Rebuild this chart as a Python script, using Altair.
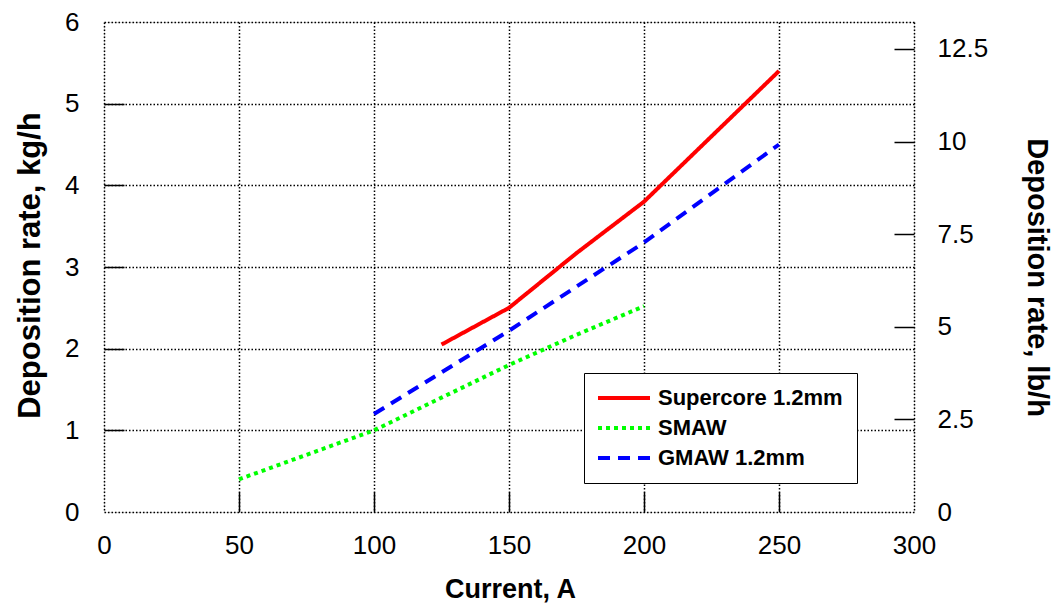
import altair as alt
import pandas as pd

series_names = ["Supercore 1.2mm", "SMAW", "GMAW 1.2mm"]
supercore_current = [125, 150, 175, 200, 250]
supercore_rate = [2.05, 2.5, 3.17, 3.8, 5.4]
smaw_current = [50, 100, 125, 150, 175, 200]
smaw_rate = [0.4, 1.0, 1.4, 1.8, 2.17, 2.52]
gmaw_current = [100, 150, 200, 250]
gmaw_rate = [1.2, 2.22, 3.3, 4.5]

x_ticks = [0, 50, 100, 150, 200, 250, 300]
kg_ticks = [0, 1, 2, 3, 4, 5, 6]
lb_ticks = [0, 2.5, 5, 7.5, 10, 12.5]
KG_TO_LB = 2.20462

colors = ["#ff0000", "#00ff00", "#0000ff"]
dashes = [[1, 0], [4, 4], [12, 8]]

rows = []
for name, xs, ys in [(series_names[0], supercore_current, supercore_rate),
                     (series_names[1], smaw_current, smaw_rate),
                     (series_names[2], gmaw_current, gmaw_rate)]:
    for x, y in zip(xs, ys):
        rows.append({"series": name, "current": x, "rate": y})
df = pd.DataFrame(rows)

FONT = "Liberation Sans"
xscale = alt.Scale(domain=[0, 300], nice=False, zero=False)
kgscale = alt.Scale(domain=[0, 6], nice=False)
lbscale = alt.Scale(domain=[0, 6 * KG_TO_LB], nice=False)

legend_spacer = "\u00a0" * 4

legend = alt.Legend(
    orient="none", legendX=480, legendY=351, padding=14,
    strokeColor="black", fillColor="white",
    symbolType="M-5.2,0H5.2", symbolSize=100, symbolStrokeWidth=4,
    symbolOffset=15,
    labelFont=FONT, labelFontSize=22, labelFontWeight="bold", labelColor="black",
    labelOffset=23, rowPadding=8, labelLimit=400,
    title=legend_spacer, titleOrient="right", titleFont=FONT, titleFontSize=22,
    titlePadding=0,
)

base = alt.Chart(df)

lines = base.mark_line(strokeWidth=4, strokeCap="butt").encode(
    x=alt.X("current:Q", scale=xscale, axis=alt.Axis(
        orient="bottom", values=x_ticks, format="d", title="Current, A",
        grid=True, gridColor="black", gridDash=[1.5, 2], gridWidth=1.5, gridOpacity=1,
        ticks=False, domain=False, labelPadding=20, labelFontSize=26,
        labelFont=FONT, labelColor="black", labelFlush=False,
        titleFont=FONT, titleFontSize=27, titleFontWeight="bold", titleColor="black",
        titleX=406, titleY=77, titleBaseline="middle", titleAlign="center")),
    y=alt.Y("rate:Q", scale=kgscale, axis=alt.Axis(
        orient="left", values=kg_ticks, format="d", title="Deposition rate, kg/h",
        grid=True, gridColor="black", gridDash=[1.5, 2], gridWidth=1.5, gridOpacity=1,
        ticks=False, domain=False, labelPadding=25, labelFontSize=26,
        labelFont=FONT, labelColor="black", labelFlush=False,
        titleFont=FONT, titleFontSize=31, titleFontWeight="bold", titleColor="black",
        titleX=-74, titleY=243, titleBaseline="middle", titleAlign="center")),
    color=alt.Color("series:N", scale=alt.Scale(domain=series_names, range=colors),
                    legend=legend, title=legend_spacer),
    strokeDash=alt.StrokeDash("series:N", scale=alt.Scale(domain=series_names, range=dashes),
                              legend=legend, title=legend_spacer),
)

kg_ticks_layer = base.mark_line(opacity=0).encode(
    x=alt.X("current:Q", scale=xscale, axis=alt.Axis(
        orient="bottom", values=x_ticks[1:-1], labels=False, domain=False, grid=False,
        ticks=True, tickSize=20, tickWidth=1.5, tickColor="black", offset=-20, title=None)),
    y=alt.Y("rate:Q", scale=kgscale, axis=alt.Axis(
        orient="left", values=kg_ticks[1:-1], labels=False, domain=False, grid=False,
        ticks=True, tickSize=20, tickWidth=1.5, tickColor="black", offset=-20, title=None)),
)

lb_base = base.transform_calculate(lb="datum.rate * 2.20462")

lb_labels = lb_base.mark_line(opacity=0).encode(
    x=alt.X("current:Q", scale=xscale, axis=None),
    y=alt.Y("lb:Q", scale=lbscale, axis=alt.Axis(
        orient="right", values=lb_ticks, labelExpr="toString(datum.value)",
        title="Deposition rate, lb/h",
        grid=False, ticks=False, domain=False, labelPadding=23, labelFontSize=26,
        labelFont=FONT, labelColor="black", labelFlush=False,
        titleFont=FONT, titleFontSize=29, titleFontWeight="bold", titleColor="black",
        titleX=122, titleY=255, titleBaseline="middle", titleAlign="center")),
)

lb_ticks_layer = lb_base.mark_line(opacity=0).encode(
    x=alt.X("current:Q", scale=xscale, axis=None),
    y=alt.Y("lb:Q", scale=lbscale, axis=alt.Axis(
        orient="right", values=lb_ticks[1:], labels=False, domain=False, grid=False,
        ticks=True, tickSize=20, tickWidth=1.5, tickColor="black", offset=-20, title=None)),
)

chart = alt.layer(lines, kg_ticks_layer, lb_labels, lb_ticks_layer).resolve_scale(
    y="independent"
).resolve_axis(
    x="independent", y="independent"
).properties(
    width=810, height=490,
    autosize=alt.AutoSizeParams(type="none"),
    padding={"left": 96, "top": 14, "right": 142, "bottom": 92},
).configure_view(
    stroke="black", strokeWidth=2.5
).configure_legend(
    strokeWidth=2.5
).configure(font=FONT, background="white")

chart.save("out.html", embed_options={"renderer": "svg", "actions": False})
